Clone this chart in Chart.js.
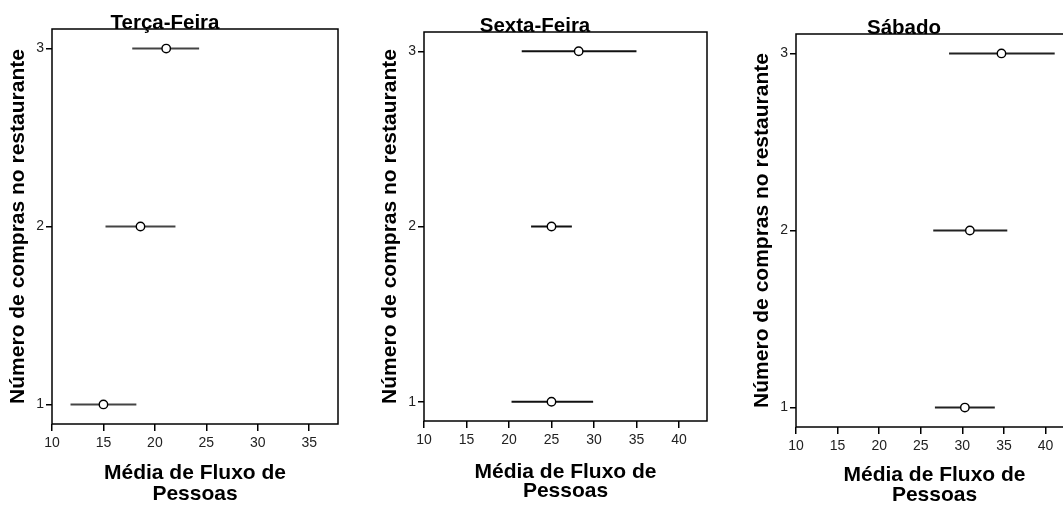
<!DOCTYPE html>
<html>
<head>
<meta charset="utf-8">
<script src="https://cdn.jsdelivr.net/npm/chart.js@4"></script>
<style>
  html, body { margin: 0; padding: 0; background: #fff; overflow: hidden; }
  body { width: 1063px; height: 506px; position: relative; }
  canvas { position: absolute; top: 0; }
</style>
</head>
<body>
<canvas id="c1" width="345" height="506" style="left:0px"></canvas>
<canvas id="c2" width="341" height="506" style="left:372px"></canvas>
<canvas id="c3" width="335" height="506" style="left:744px"></canvas>
<script>
// number of purchases (y categories)
const compras = [1, 2, 3];
const yTicks = [1, 2, 3];

// mean people flow with interval ends, one row per y category
const tercaMedia = [15.0, 18.6, 21.1];
const tercaMin = [11.8, 15.2, 17.8];
const tercaMax = [18.2, 22.0, 24.3];

const sextaMedia = [25.0, 25.0, 28.2];
const sextaMin = [20.3, 22.6, 21.5];
const sextaMax = [29.9, 27.4, 35.0];

const sabadoMedia = [30.3, 30.9, 34.7];
const sabadoMin = [26.7, 26.5, 28.4];
const sabadoMax = [33.9, 35.4, 41.1];

const xTicksTerca = [10, 15, 20, 25, 30, 35];
const xTicksOutros = [10, 15, 20, 25, 30, 35, 40];

const FONT = "'Liberation Sans', Arial, sans-serif";

// panel title + frame around the plot area
const framePlugin = {
  id: "frame",
  afterDraw(chart, args, opts) {
    const ctx = chart.ctx;
    const a = chart.chartArea;
    ctx.save();
    ctx.fillStyle = "#000";
    ctx.font = "bold 20.5px " + FONT;
    ctx.textAlign = "center";
    ctx.textBaseline = "alphabetic";
    ctx.fillText(opts.text, opts.x, a.top);
    ctx.strokeStyle = "#000";
    ctx.lineWidth = 1.5;
    ctx.strokeRect(a.left, a.top, a.right - a.left, a.bottom - a.top);
    ctx.restore();
  },
};

function makePanel(id, title, media, lo, hi, xTicks, cfg) {
  const datasets = compras.map((c, i) => ({
    type: "scatter",
    showLine: true,
    data: [
      { x: lo[i], y: c },
      { x: hi[i], y: c },
    ],
    borderColor: cfg.lineColor,
    borderWidth: 2,
    pointRadius: 0,
    order: 1,
  }));
  datasets.push({
    type: "scatter",
    data: compras.map((c, i) => ({ x: media[i], y: c })),
    pointStyle: "circle",
    pointRadius: 4.2,
    backgroundColor: "#fff",
    borderColor: "#000",
    borderWidth: 1.4,
    order: 0,
  });

  new Chart(document.getElementById(id), {
    type: "scatter",
    data: { datasets: datasets },
    plugins: [framePlugin],
    options: {
      responsive: false,
      animation: false,
      layout: { padding: { top: cfg.top, right: cfg.right, left: 0, bottom: 0 } },
      plugins: {
        legend: { display: false },
        tooltip: { enabled: false },
        frame: { text: title, x: cfg.titleX },
      },
      scales: {
        x: {
          type: "linear",
          min: 10,
          max: cfg.xMax,
          afterBuildTicks: (s) => {
            s.ticks = xTicks.map((v) => ({ value: v }));
          },
          afterFit: (s) => {
            s.height = 506 - cfg.bottom;
          },
          grid: { drawOnChartArea: false, drawTicks: true, tickLength: 7, color: "#000", lineWidth: 1.5 },
          border: { display: false },
          ticks: { color: "#222", padding: 4, font: { family: FONT, size: 14 } },
          title: {
            display: true,
            text: ["Média de Fluxo de", "Pessoas"],
            color: "#000",
            font: { family: FONT, size: 21, weight: "bold", lineHeight: cfg.xLine },
            padding: { top: 0, bottom: cfg.xPad },
          },
        },
        y: {
          type: "linear",
          min: 0.89,
          max: 3.11,
          afterBuildTicks: (s) => {
            s.ticks = yTicks.map((v) => ({ value: v }));
          },
          afterFit: (s) => {
            s.width = 52;
          },
          grid: { drawOnChartArea: false, drawTicks: true, tickLength: 6, color: "#000", lineWidth: 1.5 },
          border: { display: false },
          ticks: { color: "#222", padding: 2, font: { family: FONT, size: 14 } },
          title: {
            display: true,
            text: "Número de compras no restaurante",
            color: "#000",
            font: { family: FONT, size: 21, weight: "bold", lineHeight: 1.2 },
            padding: { top: 6, bottom: 0 },
          },
        },
      },
    },
  });
}

makePanel("c1", "Terça-Feira", tercaMedia, tercaMin, tercaMax, xTicksTerca,
  { top: 29, bottom: 424, right: 7, xMax: 37.8, titleX: 165, lineColor: "#444", xLine: 1.0, xPad: 1 });
makePanel("c2", "Sexta-Feira", sextaMedia, sextaMin, sextaMax, xTicksOutros,
  { top: 32, bottom: 421, right: 6, xMax: 43.3, titleX: 163, lineColor: "#111", xLine: 0.9, xPad: 5 });
makePanel("c3", "Sábado", sabadoMedia, sabadoMin, sabadoMax, xTicksOutros,
  { top: 34, bottom: 427, right: 6, xMax: 43.3, titleX: 160, lineColor: "#222", xLine: 0.95, xPad: 1 });
</script>
</body>
</html>
